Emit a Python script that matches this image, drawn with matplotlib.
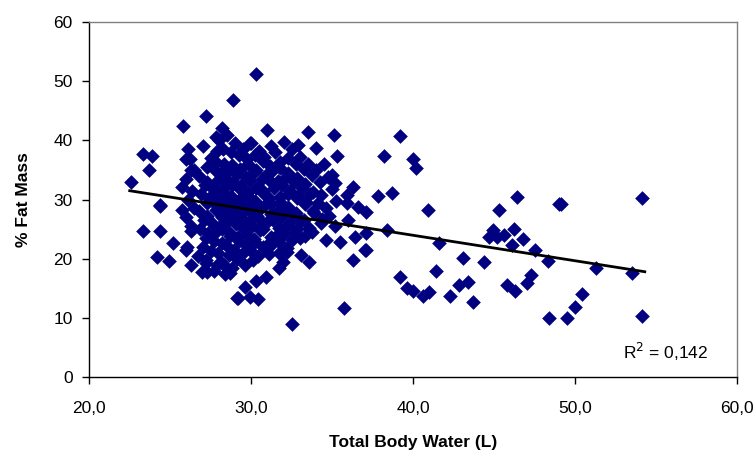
import numpy as np
import matplotlib.pyplot as plt

plt.rcParams['font.family'] = ['Liberation Sans', 'DejaVu Sans']

# outlying points
out_x = [30.3, 28.9, 27.2, 25.8, 28.2, 27.8, 26.1, 26.0, 27.9, 23.3, 23.9, 23.7, 22.6, 25.7,
         24.4, 26.3, 33.5, 35.1, 29.9, 34.0, 32.9, 35.3, 35.0, 35.2, 36.3, 35.9, 36.6,
         24.4, 25.7, 23.3, 24.4, 25.2, 24.2, 24.9, 26.0, 26.3, 27.3, 28.4, 29.1, 26.3, 27.9,
         32.5, 35.7, 29.2, 29.9, 30.4, 30.3, 30.9, 31.7, 33.6, 33.1, 33.0, 36.3, 37.0,
         35.5, 34.6, 35.9, 28.7, 29.6, 36.4, 36.0, 37.1,
         39.2, 38.2, 40.0, 40.2, 37.8, 38.7, 37.1, 40.9, 46.4, 45.3, 49.1, 38.4, 37.1,
         41.6, 44.9, 45.2, 46.2, 45.6, 46.8, 46.1, 47.5, 48.3, 44.7, 43.1, 44.4, 41.4,
         39.2, 39.6, 40.0, 40.6, 41.0, 42.3, 42.8, 43.4, 43.7, 45.8, 46.3, 47.0, 47.3,
         48.4, 54.1, 51.3, 53.5, 50.4, 50.0, 49.5, 54.1, 49.0]
out_y = [51.2, 46.8, 44.1, 42.4, 42.1, 40.5, 38.5, 36.8, 38.2, 37.7, 37.3, 35.0, 32.9, 32.1,
         29.1, 35.0, 41.4, 41.0, 39.5, 38.7, 39.2, 37.3, 34.1, 32.8, 32.1, 30.7, 28.7,
         28.9, 28.2, 24.7, 24.7, 22.6, 20.3, 19.6, 21.5, 18.9, 17.7, 17.4, 13.3, 24.7, 18.9,
         9.0, 11.7, 13.3, 13.5, 13.2, 16.2, 16.9, 18.4, 19.4, 20.6, 23.5, 19.8, 21.5,
         22.8, 23.1, 29.4, 17.6, 15.2, 23.6, 26.5, 24.3,
         40.7, 37.3, 36.8, 35.3, 30.6, 31.1, 27.9, 28.2, 30.4, 28.2, 29.3, 24.8, 21.5,
         22.6, 24.8, 23.6, 25.0, 24.0, 23.3, 22.3, 21.5, 19.6, 23.6, 20.1, 19.4, 17.9,
         16.9, 15.0, 14.5, 13.7, 14.4, 13.7, 15.5, 16.0, 12.7, 15.5, 14.5, 15.9, 17.2,
         10.0, 30.2, 18.4, 17.6, 14.0, 11.8, 10.0, 10.3, 29.2]

# dense cluster, estimated column by column (x -> list of y)
cluster = {
    26.2: [36.8, 35.0, 33.5, 31.5, 30.0, 28.5, 27.0, 25.5, 22.0],
    27.0: [39.0, 35.5, 34.0, 32.5, 31.0, 29.5, 28.0, 26.5, 25.0, 23.5, 22.0, 20.5, 19.2, 17.8],
    27.5: [37.0, 35.0, 33.0, 31.8, 30.3, 29.0, 27.3, 26.0, 24.3, 23.0, 21.3, 19.8, 18.0],
    28.0: [40.0, 38.5, 36.3, 34.5, 33.2, 32.0, 30.8, 29.6, 28.2, 27.0, 25.6, 24.2, 22.6, 21.0, 19.5],
    28.5: [41.0, 38.0, 36.0, 34.8, 33.6, 32.4, 31.2, 30.0, 28.8, 27.6, 26.3, 25.0, 23.8, 22.3, 20.6, 19.0],
    29.0: [39.5, 37.5, 35.8, 34.3, 33.0, 31.8, 30.6, 29.4, 28.2, 27.0, 25.8, 24.4, 23.0, 21.5, 20.0, 18.4],
    29.5: [38.5, 36.8, 35.2, 33.8, 32.5, 31.3, 30.0, 28.8, 27.5, 26.2, 25.0, 23.6, 22.2, 20.8, 19.0],
    30.0: [39.5, 37.5, 36.0, 34.6, 33.3, 32.0, 30.7, 29.5, 28.2, 27.0, 25.6, 24.2, 22.8, 21.4, 19.8],
    30.5: [38.2, 36.5, 35.0, 33.5, 32.2, 31.0, 29.8, 28.5, 27.2, 26.0, 24.8, 23.4, 22.0, 20.5],
    31.0: [41.7, 39.0, 37.2, 35.6, 34.2, 32.8, 31.5, 30.2, 29.0, 27.6, 26.3, 25.0, 23.7, 22.3, 20.8],
    31.5: [38.0, 36.3, 34.8, 33.2, 31.9, 30.5, 29.2, 27.9, 26.5, 25.2, 23.8, 22.4, 21.0],
    32.0: [39.8, 37.0, 35.4, 33.8, 32.4, 31.0, 29.6, 28.3, 27.0, 25.6, 24.2, 22.8, 21.2, 19.5],
    32.5: [38.5, 36.0, 34.5, 33.0, 31.5, 30.2, 28.8, 27.4, 26.0, 24.6, 23.2, 21.8],
    33.0: [37.2, 35.2, 33.6, 32.0, 30.6, 29.2, 27.8, 26.4, 25.0],
    33.5: [36.0, 34.2, 32.6, 31.0, 29.6, 28.0, 26.6, 25.2, 23.8],
    34.0: [35.0, 33.0, 31.2, 29.5, 27.8, 26.0, 24.6],
    34.5: [36.0, 33.8, 30.8, 28.6, 26.8],
    35.0: [31.8, 29.8, 27.2, 25.5],
}
# small horizontal offsets so the columns do not look like a grid
col_shift = [0.0, 0.25, -0.2, 0.15, -0.1, 0.3, -0.25, 0.1, -0.15, 0.2, 0.05, -0.3, 0.22, -0.05, 0.12, -0.18]

trend_x = [22.5, 54.3]
trend_y = [31.5, 17.8]
r2_text = 'R$^2$ = 0,142'

xs = list(out_x)
ys = list(out_y)
for cx, col in cluster.items():
    for i, cy in enumerate(col):
        xs.append(cx + col_shift[i % len(col_shift)])
        ys.append(cy)

fig = plt.figure(figsize=(7.56, 4.62), dpi=100)
ax = fig.add_axes([0.118, 0.184, 0.857, 0.768])

ax.scatter(xs, ys, marker='D', s=56, color='#000080', linewidths=0, zorder=2)
ax.plot(trend_x, trend_y, color='black', lw=2, zorder=3)

ax.set_xlim(20, 60)
ax.set_ylim(0, 60)
ax.set_xticks([20, 30, 40, 50, 60])
ax.set_xticklabels(['20,0', '30,0', '40,0', '50,0', '60,0'])
ax.set_yticks(range(0, 61, 10))
ax.tick_params(labelsize=12.5, length=5, width=1, color='black', direction='out')
ax.tick_params(axis='x', pad=12)
ax.tick_params(axis='y', pad=7)

for s in ['top', 'right']:
    ax.spines[s].set_color('#808080')
for s in ['left', 'bottom']:
    ax.spines[s].set_color('black')
for s in ax.spines.values():
    s.set_linewidth(1)

ax.set_xlabel('Total Body Water (L)', fontsize=12.5, fontweight='bold', labelpad=14)
ax.set_ylabel('% Fat Mass', fontsize=12.5, fontweight='bold', labelpad=16)
ax.text(0.955, 0.07, r2_text, transform=ax.transAxes, ha='right', va='center', fontsize=12.5)

fig.savefig('out.png', dpi=100)
